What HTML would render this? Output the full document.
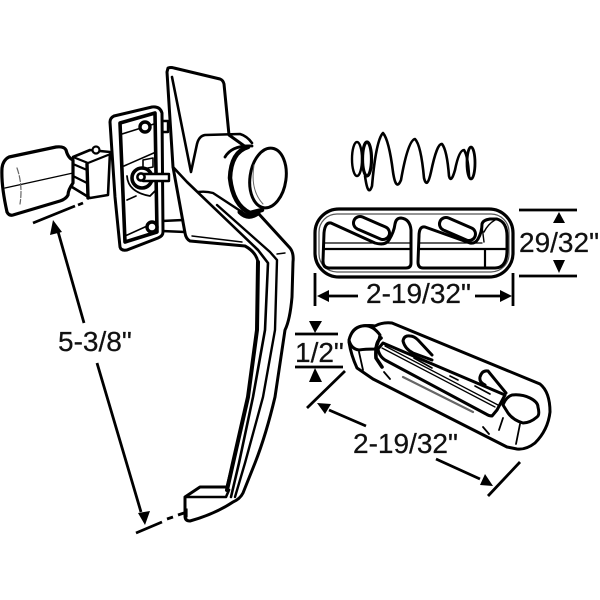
<!DOCTYPE html>
<html><head><meta charset="utf-8"><style>
html,body{margin:0;padding:0;background:#fff}
svg{display:block}
text{font-family:"Liberation Sans",sans-serif;font-size:28px;fill:#111;stroke:#111;stroke-width:.25}
</style></head><body>
<svg width="600" height="600" viewBox="0 0 600 600" xmlns="http://www.w3.org/2000/svg">
<rect width="600" height="600" fill="#fff"/>
<g fill="none" stroke="#000" stroke-width="2.4" stroke-linejoin="round" stroke-linecap="round">
<!-- flange -->
<path fill="#fff" stroke-width="3" d="M168 68 Q171 67 174 68 L220 79 Q223 80 224 84 L229 135 L250 150 L258 213 L290 248 Q294 253 293 262 L292 297 Q290 320 285 330 L275 397 Q266 435 255 463 L243 493 Q240 499 233 502 Q215 514 190 521 Q185 521 185 516 L185 497 L200 487 L227 487 L233 463 L248 397 L257 330 L258 262 Q256 252 245 246 L190 241 Q186 239 185 233 L173 167 L167 72 Z"/>
<path stroke-width="2.6" d="M172 77 L191 172 L197 144 Q199 136 205 135 L240 134 Q247 136 252 143"/>
<path stroke-width="2.6" d="M173 167 L187 182 L258 250 L268 263 L265 330 L253 397 L239 463 L231 497"/>
<path stroke-width="2.4" d="M198 192 Q206 191 213 193 L242 212 M217 205 L270 252 L277 260 L275 330 L263 397 L245 463 L235 497"/>
<path stroke-width="4" d="M258 262 L257 330 L248 397 L233 463 L227 490"/>
<path stroke-width="2.6" d="M185 497 L226 497 L229 490"/>
<path stroke-width="1.4" d="M192 236 L242 242 M277 254 L285 253"/>
<path stroke-width="1.2" d="M187 509 L187 517"/>
<!-- studs behind the plate -->
<path stroke-width="2.4" d="M160 121 L168 121 L168 132 L160 132 M162 221 L183 220 M162 231 L185 232"/>
<!-- knob -->
<path fill="#fff" stroke="none" d="M236 146 L270 150 L272 208 L250 214 Q234 205 230 170 Z"/>
<path stroke-width="2.8" d="M225 157 Q232 145 252 146"/>
<path stroke-width="4.5" d="M248 147 Q231 152 230 178 Q233 205 250 213 L262 210"/>
<path stroke-width="5" d="M240 212 Q248 220 258 213"/>
<ellipse cx="268" cy="178" rx="18" ry="30" transform="rotate(8 268 178)" fill="#fff" stroke-width="3"/>
<path d="M254 165 Q250 190 263 204" stroke-width="1" stroke="#666"/>
<!-- mounting plate -->
<path fill="#fff" stroke-width="3" d="M110 122 Q110 118 114 116 L152 107 Q160 106 162 113 L163 232 Q163 236 158 238 L127 250 Q121 251 120 247 L115 197 Z"/>
<path stroke-width="3.6" d="M120 123 L155 113 L157 232 L125 242 Z"/>
<path stroke-width="1.6" d="M122 134 L154 124 M124 166 L156 152 M127 200 L136 196 M125 236 L156 222"/>
<circle cx="145" cy="127" r="5" stroke-width="3.4" fill="#fff"/>
<circle cx="152" cy="227" r="5" stroke-width="3.4" fill="#fff"/>
<circle cx="142" cy="178" r="10" stroke-width="3.6" fill="#fff"/>
<path d="M127 176 Q128 192 150 196 L156 190" stroke-width="1.8"/>
<path d="M143 160 L153 158 L153 167 L143 169 Z" stroke-width="1.6"/>
<path d="M143 174 L169 174 L169 181 L143 181" fill="#fff" stroke-width="2.4"/>
<circle cx="141" cy="177" r="3.6" fill="#fff" stroke-width="2.6"/>
<!-- left latch -->
<path fill="#fff" d="M73 157 L90 150 L110 152 L108 195 L90 198 L72 187 Z" stroke-width="2.6"/>
<path d="M73 157 L88 163 L108 155 M73 164 L87 170 M73 176 L87 183" stroke-width="2.2"/>
<path d="M87 164 L88 198" stroke-width="3.4"/>
<circle cx="96" cy="150" r="3.5" fill="#fff" stroke-width="2.2"/>
<path fill="#fff" stroke-width="3.2" d="M2 168 Q3 160 9 157 L56 147 Q64 146 66 150 Q68 158 73 160 L73 183 Q68 190 68 195 Q66 199 60 201 L13 215 Q9 216 7 212 Q1 185 2 168 Z"/>
<path stroke-width="1.4" d="M5 188 L73 173"/>
<path stroke-width="1.2" stroke="#666" stroke-dasharray="6 2" d="M17 168 Q23 185 20 204"/>
<!-- spring -->
<ellipse cx="357" cy="159" rx="5" ry="17" stroke-width="2.4"/>
<ellipse cx="367" cy="159" rx="4.5" ry="17" stroke-width="3.2"/>
<path stroke-width="2.6" d="M365 176 Q368 198 372 186 Q376 140 383 133 Q389 140 393 172 Q396 192 401 180 Q408 140 415 139 Q421 145 424 178 Q427 190 431 172 Q437 143 442 144 Q447 150 449 176 Q451 184 455 170 Q459 150 464 150 Q468 156 469 176"/>
<ellipse cx="471" cy="163" rx="4" ry="16" stroke-width="2.8"/>
<!-- top insert -->
<rect x="315" y="209" width="198" height="68" rx="24" stroke-width="3.2"/>
<rect x="319" y="214" width="190" height="58" rx="18" stroke-width="1.2" stroke="#555"/>
<path stroke-width="3" d="M324 233 Q325 222 331 223 L375 243 Q385 246 389 240 Q394 232 395 224 Q396 218 401 218 Q410 219 411 230 L411 263 Q411 268 406 268 L329 268 Q323 268 323 261 Z"/>
<path stroke-width="3" d="M419 236 Q419 226 425 227 L470 243 Q475 244 478 239 Q482 232 482 224 Q483 220 490 219 L497 219 Q507 222 507 236 L507 250 Q507 268 495 268 L423 268 Q418 268 418 262 Z"/>
<path stroke-width="1.3" d="M324 243 L411 243 M419 243 L482 243"/>
<path stroke-width="2.2" d="M324 249 L411 249 M419 249 L507 249 M485 249 L485 268"/>
<path stroke-width="1.4" d="M482 226 L484 242 M495 220 Q488 224 484 232"/>
<line x1="360" y1="223" x2="383" y2="233" stroke-width="16"/>
<line x1="360" y1="223" x2="383" y2="233" stroke-width="10" stroke="#fff"/>
<line x1="446" y1="224" x2="469" y2="234" stroke-width="16"/>
<line x1="446" y1="224" x2="469" y2="234" stroke-width="10" stroke="#fff"/>
<!-- bottom insert -->
<path fill="#fff" stroke-width="3" d="M350 338 Q352 328 362 326 Q370 325 375 326 Q382 322 392 323 L540 384 Q550 392 550 412 Q548 430 535 443 Q526 450 517 449 L507 447 L373 379 L357 368 Q351 355 349 342 Z"/>
<path fill="#fff" stroke-width="3" d="M349 340 Q352 328 362 326 Q372 324 380 335 Q378 345 375 349 Q365 349 359 350 Q351 349 349 340 Z"/>
<path fill="#fff" stroke-width="3" d="M503 405 Q506 397 512 395 Q522 394 530 398 Q538 402 538 407 Q540 415 537 417 Q530 423 523 423 Q513 420 508 413 Z"/>
<path stroke-width="3" d="M432 360 L413 353 Q405 349 403 341 Q404 335 410 336 Q414 336 418 340 L432 355"/>
<path stroke-width="3" d="M485 385 Q479 382 480 377 Q482 370 488 371 L506 393"/>
<path stroke-width="3" d="M383 343 L505 395 L497 410 L492 416 Q489 416 486 414 L385 360 Q379 356 378 349 Z" fill="#fff"/>
<path stroke-width="1.3" d="M382 348 L495 407 M385 346 L498 405"/>
<path stroke-width="1.6" d="M414 358 L432 368 M450 376 L458 380 M475 386 L490 394"/>
<path stroke-width="3.6" d="M381 338 Q375 342 376 358 L382 367"/>
<path stroke-width="2.2" d="M403 377 L473 412" stroke="#666"/>
<path stroke-width="1.8" d="M359 352 L363 370 M503 418 L499 430 M520 424 L516 444 M384 372 L390 379 M483 427 L489 434"/>
<!-- dimension lines -->
<g stroke-width="2.8" stroke-linecap="butt">
<path d="M519 210 L577 210 M519 276 L577 276"/>
<path d="M315 273 L315 306 M513 273 L513 306"/>
<path d="M328 296 L358 296 M475 296 L502 296"/>
<path d="M295 334 L338 334 M295 367 L343 367"/>
<path d="M307 408 L345 371 M488 496 L520 462"/>
<path d="M329 410 L366 426 M436 459 L480 479"/>
<path d="M33 223 L75 206 M78 205 L83 203 M136 533 L162 522 M167 519 L173 517 M178 515 L184 513"/>
<path d="M57 228 L84 323 M97 363 L141 512"/>
</g>
</g>
<g fill="#000" stroke="none">
<path d="M559 212 L565 223 L553 223 Z M559 273 L565 260 L553 260 Z"/>
<path d="M317 296 L329 290 L329 302 Z M512 296 L500 290 L500 302 Z"/>
<path d="M315 333 L309 321 L322 321 Z M315 368 L309 382 L322 382 Z"/>
<path d="M317 403 L331 404 L325 414 Z M493 486 L480 485 L485 474 Z"/>
<path d="M53 220 L62 232 L50 235 Z M145 525 L138 513 L150 511 Z"/>
</g>
<text x="58" y="351">5-3/8"</text>
<text x="366" y="303">2-19/32"</text>
<text x="519" y="252">29/32"</text>
<text x="295" y="362">1/2"</text>
<text x="353" y="453">2-19/32"</text>
</svg>
</body></html>
